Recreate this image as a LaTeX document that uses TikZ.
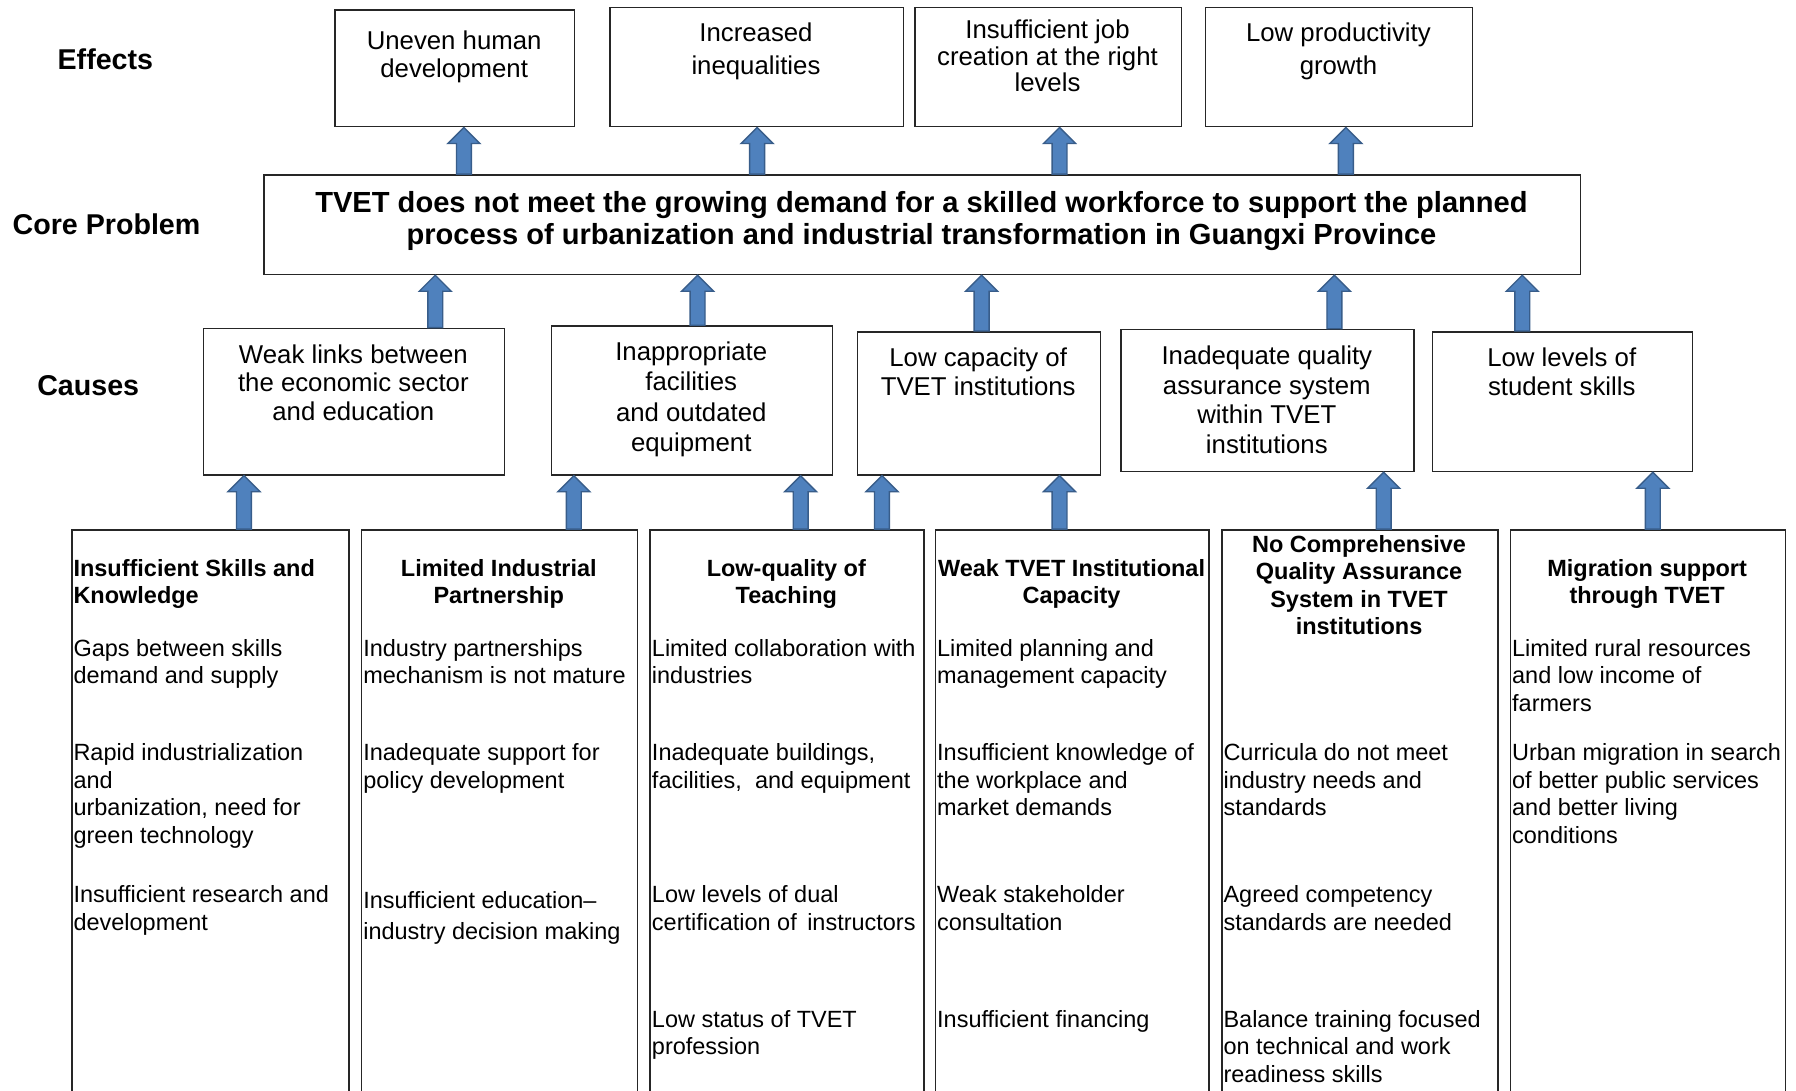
\documentclass[tikz,border=0pt]{standalone}
\usepackage{fontspec}
\setmainfont{Liberation Sans}
\usetikzlibrary{calc}
\definecolor{arrfill}{HTML}{4F81BD}
\definecolor{arrline}{HTML}{385D8A}
\definecolor{boxline}{HTML}{262626}
\tikzset{
  box/.style={draw=boxline, line width=1.3pt, inner sep=0pt, anchor=north west},
  lbl/.style={font=\fontsize{25}{30}\selectfont\bfseries, inner sep=0pt},
  ctr/.style={align=center, anchor=north, inner sep=0pt},
  lft/.style={align=left, anchor=north west, inner sep=0pt},
  effF/.style={font=\fontsize{22.5}{#1}\selectfont}, effF/.default=25,
  cauF/.style={font=\fontsize{22.5}{#1}\selectfont}, cauF/.default=26,
  botF/.style={font=\fontsize{20.5}{#1}\selectfont}, botF/.default=24,
  titF/.style={font=\fontsize{20.5}{24}\selectfont\bfseries},
  coreF/.style={font=\fontsize{25.4}{28}\selectfont\bfseries},
  arr/.style={fill=arrfill, draw=arrline, line width=1.2pt, line join=miter},
}
\newcommand\blockarr[2]{%
  \filldraw[arr] ($(#1)+(-6.5,0)$) -- ($(#2)+(-6.5,14)$) -- ($(#2)+(-14,14)$) -- (#2)
    -- ($(#2)+(14,14)$) -- ($(#2)+(6.5,14)$) -- ($(#1)+(6.5,0)$) -- cycle;}
\newcommand\conn[3]{%
  \coordinate (tmpx) at (#1,0);
  \coordinate (tmpa) at (tmpx |- #2.north);
  \coordinate (tmpb) at (tmpx |- #3.south);
  \blockarr{tmpa}{tmpb}}
\begin{document}
\begin{tikzpicture}[x=1pt, y=-1pt]
\path[use as bounding box, clip] (0,0) rectangle (1568,952);
\fill[white] (0,0) rectangle (1568,952);

% left labels
\node[lbl] (leff) at (92,52) {Effects};
\node[lbl] (lcore) at (93,196) {Core Problem};
\node[lbl] (lcau) at (77,337) {Causes};

% effects
\node[box, minimum width=209pt, minimum height=102pt] (e1) at (292,8) {};
\node[box, minimum width=256pt, minimum height=104pt] (e2) at (532,6) {};
\node[box, minimum width=233pt, minimum height=104pt] (e3) at (798,6) {};
\node[box, minimum width=233pt, minimum height=104pt] (e4) at (1052,6) {};
\node[effF, ctr] (e1t) at (396.5,26.5) {Uneven human\\development};
\node[effF=29, ctr] (e2t) at (660,19.5) {Increased\\inequalities};
\node[effF=23, ctr] (e3t) at (914.5,17.5) {Insufficient job\\creation at the right\\levels};
\node[effF=29, ctr] (e4t) at (1168.5,19.5) {Low productivity\\growth};

% core problem
\node[box, minimum width=1149pt, minimum height=87pt] (core) at (230,152) {};
\node[coreF, ctr] (coret) at (804.5,166.5) {TVET does not meet the growing demand for a skilled workforce to support the planned\\process of urbanization and industrial transformation in Guangxi Province};

% causes
\node[box, minimum width=263pt, minimum height=128pt] (c1) at (177,286) {};
\node[box, minimum width=245pt, minimum height=130pt] (c2) at (481,284) {};
\node[box, minimum width=212pt, minimum height=125pt] (c3) at (748,289) {};
\node[box, minimum width=256pt, minimum height=124pt] (c4) at (978,287) {};
\node[box, minimum width=227pt, minimum height=122pt] (c5) at (1250,289) {};
\node[cauF=25, ctr] (c1t) at (308.5,300.5) {Weak links between\\the economic sector\\and education};
\node[cauF=26.3, ctr] (c2t) at (603.5,298.5) {Inappropriate\\facilities\\and outdated\\equipment};
\node[cauF=25, ctr] (c3t) at (854,303.5) {Low capacity of\\TVET institutions};
\node[cauF=26, ctr] (c4t) at (1106,301.5) {Inadequate quality\\assurance system\\within TVET\\institutions};
\node[cauF=25, ctr] (c5t) at (1363.5,303.5) {Low levels of\\student skills};

% bottom boxes
\node[box, minimum width=242pt, minimum height=520pt] (b1) at (62,462) {};
\node[box, minimum width=241pt, minimum height=520pt] (b2) at (315,462) {};
\node[box, minimum width=239pt, minimum height=520pt] (b3) at (567,462) {};
\node[box, minimum width=239pt, minimum height=520pt] (b4) at (816,462) {};
\node[box, minimum width=241pt, minimum height=520pt] (b5) at (1066,462) {};
\node[box, minimum width=240pt, minimum height=520pt] (b6) at (1318,462) {};

% B1
\node[titF, lft] (b1h) at (64,488) {Insufficient Skills and\\Knowledge};
\node[botF, lft] (b1i1) at (64,558) {Gaps between skills\\demand and supply};
\node[botF, lft] (b1i2) at (64,649) {Rapid industrialization\\and\\urbanization, need for\\green technology};
\node[botF, lft] (b1i3) at (64,773) {Insufficient research and\\development};
% B2
\node[titF, ctr] (b2h) at (435.5,488) {Limited Industrial\\Partnership};
\node[botF, lft] (b2i1) at (317,558) {Industry partnerships\\mechanism is not mature};
\node[botF, lft] (b2i2) at (317,649) {Inadequate support for\\policy development};
\node[botF=27, lft] (b2i3) at (317,778) {Insufficient education–\\industry decision making};
% B3
\node[titF, ctr] (b3h) at (686.5,488) {Low-quality of\\Teaching};
\node[botF, lft] (b3i1) at (569,558) {Limited collaboration with\\industries};
\node[botF, lft] (b3i2) at (569,649) {Inadequate buildings,\\facilities,\ \ and equipment};
\node[botF, lft] (b3i3) at (569,773) {Low levels of dual\\certification of\, instructors};
\node[botF, lft] (b3i4) at (569,882) {Low status of TVET\\profession};
% B4
\node[titF, ctr] (b4h) at (935.5,488) {Weak TVET Institutional\\Capacity};
\node[botF, lft] (b4i1) at (818,558) {Limited planning and\\management capacity};
\node[botF, lft] (b4i2) at (818,649) {Insufficient knowledge of\\the workplace and\\market demands};
\node[botF, lft] (b4i3) at (818,773) {Weak stakeholder\\consultation};
\node[botF, lft] (b4i4) at (818,882) {Insufficient financing};
% B5
\node[titF, ctr] (b5h) at (1186.5,467) {No Comprehensive\\Quality Assurance\\System in TVET\\institutions};
\node[botF, lft] (b5i1) at (1068,649) {Curricula do not meet\\industry needs and\\standards};
\node[botF, lft] (b5i2) at (1068,773) {Agreed competency\\standards are needed};
\node[botF, lft] (b5i3) at (1068,882) {Balance training focused\\on technical and work\\readiness skills};
% B6
\node[titF, ctr] (b6h) at (1438,488) {Migration support\\through TVET};
\node[botF, lft] (b6i1) at (1320,558) {Limited rural resources\\and low income of\\farmers};
\node[botF, lft] (b6i2) at (1320,649) {Urban migration in search\\of better public services\\and better living\\conditions};

% arrows core -> effects
\conn{405}{core}{e1}
\conn{661}{core}{e2}
\conn{925}{core}{e3}
\conn{1175}{core}{e4}
% arrows causes -> core
\conn{380}{c1}{core}
\conn{609}{c2}{core}
\conn{857}{c3}{core}
\conn{1165}{c4}{core}
\conn{1329}{c5}{core}
% arrows bottom -> causes
\conn{213}{b1}{c1}
\conn{501}{b2}{c2}
\conn{699}{b3}{c2}
\conn{770}{b3}{c3}
\conn{925}{b4}{c3}
\conn{1208}{b5}{c4}
\conn{1443}{b6}{c5}
\end{tikzpicture}
\end{document}
